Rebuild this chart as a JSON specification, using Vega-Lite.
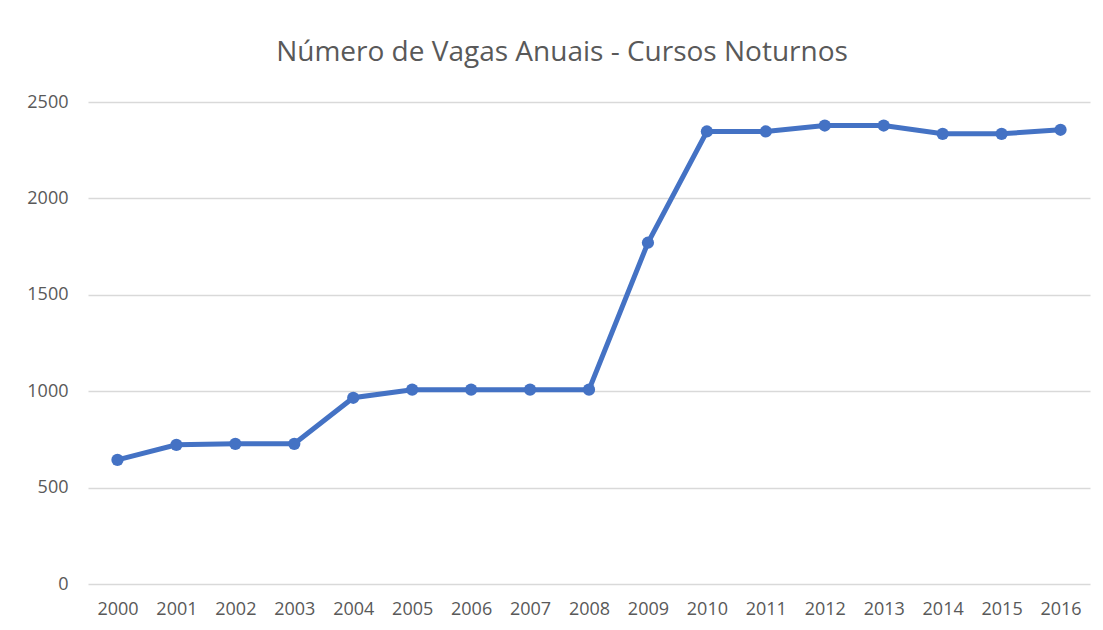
{
  "$schema": "https://vega.github.io/schema/vega-lite/v6.json",
  "width": 1002,
  "height": 482,
  "autosize": {"type": "none"},
  "padding": {"left": 88, "top": 102, "right": 13, "bottom": 46},
  "background": "white",
  "title": {
    "text": "Número de Vagas Anuais - Cursos Noturnos",
    "font": "Open Sans",
    "fontSize": 28,
    "fontWeight": "normal",
    "color": "#595959",
    "anchor": "middle",
    "dx": -27,
    "offset": 26
  },
  "data": {
    "values": [
      {"ano": "2000", "vagas": 644},
      {"ano": "2001", "vagas": 722},
      {"ano": "2002", "vagas": 727},
      {"ano": "2003", "vagas": 727},
      {"ano": "2004", "vagas": 966},
      {"ano": "2005", "vagas": 1008},
      {"ano": "2006", "vagas": 1008},
      {"ano": "2007", "vagas": 1008},
      {"ano": "2008", "vagas": 1008},
      {"ano": "2009", "vagas": 1770},
      {"ano": "2010", "vagas": 2347},
      {"ano": "2011", "vagas": 2347},
      {"ano": "2012", "vagas": 2378},
      {"ano": "2013", "vagas": 2378},
      {"ano": "2014", "vagas": 2335},
      {"ano": "2015", "vagas": 2335},
      {"ano": "2016", "vagas": 2356}
    ]
  },
  "encoding": {
    "x": {
      "field": "ano",
      "type": "ordinal",
      "scale": {"type": "point", "padding": 0.5},
      "axis": {
        "title": null,
        "labelAngle": 0,
        "labelFont": "Open Sans",
        "labelFontSize": 18,
        "labelColor": "#595959",
        "labelPadding": 16,
        "ticks": false,
        "domain": false,
        "grid": false
      }
    },
    "y": {
      "field": "vagas",
      "type": "quantitative",
      "scale": {"domain": [0, 2500]},
      "axis": {
        "title": null,
        "format": "d",
        "values": [0, 500, 1000, 1500, 2000, 2500],
        "labelFont": "Open Sans",
        "labelFontSize": 18,
        "labelColor": "#595959",
        "labelPadding": 20,
        "ticks": false,
        "domain": false,
        "grid": true,
        "gridColor": "#d9d9d9",
        "gridWidth": 1.5
      }
    }
  },
  "layer": [
    {"mark": {"type": "line", "color": "#4472C4", "strokeWidth": 5}},
    {"mark": {"type": "point", "filled": true, "color": "#4472C4", "size": 150, "opacity": 1}}
  ],
  "config": {"view": {"stroke": null}}
}
